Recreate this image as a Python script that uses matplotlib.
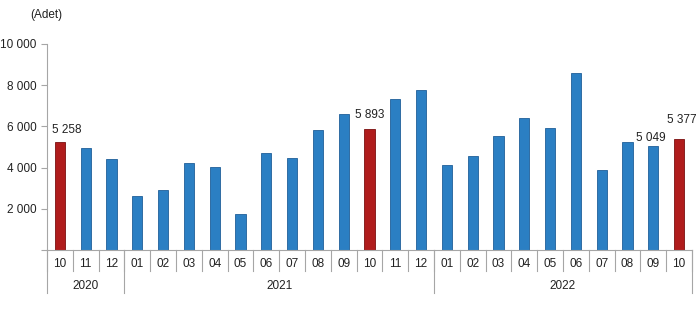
import matplotlib.pyplot as plt
import numpy as np
from matplotlib.transforms import blended_transform_factory

months = ["10", "11", "12",
          "01", "02", "03", "04", "05", "06", "07", "08", "09", "10", "11", "12",
          "01", "02", "03", "04", "05", "06", "07", "08", "09", "10"]
values = [5258, 4930, 4410,
          2640, 2900, 4230, 4030, 1730, 4690, 4450, 5810, 6620, 5893, 7310, 7790,
          4140, 4550, 5530, 6420, 5910, 8600, 3900, 5260, 5049, 5377]
years = ["2020", "2021", "2022"]
year_counts = [3, 12, 10]
labelled = {0: "5 258", 12: "5 893", 23: "5 049", 24: "5 377"}

# label nudges (x in bar slots, y in data units)
label_shift = {0: (0.25, 300), 12: (0.0, 350), 23: (-0.1, 120), 24: (0.1, 650)}

blue = "#2b7fc3"
blue_edge = "#1f5f99"
red = "#b01c1c"
red_edge = "#7a1010"
grey = "#a6a6a6"

plt.rcParams['font.family'] = ['Liberation Sans', 'DejaVu Sans']

fig = plt.figure(figsize=(7, 3.34), dpi=100)
ax = fig.add_axes([47 / 700, 84 / 334, 645 / 700, 206 / 334])

x = np.arange(len(values))
colors = [red if m == "10" else blue for m in months]
edges = [red_edge if m == "10" else blue_edge for m in months]
ax.bar(x, values, width=0.4, color=colors, edgecolor=edges, linewidth=0.6, zorder=2)

for i, txt in labelled.items():
    dx, dy = label_shift[i]
    ax.text(x[i] + dx, values[i] + dy, txt, ha="center", va="bottom", fontsize=8.5, color="#222222")

ax.set_xlim(-0.5, len(values) - 0.5)
ax.set_ylim(0, 10000)
ax.set_yticks(range(0, 10001, 2000))
ax.set_yticklabels(["", "2 000", "4 000", "6 000", "8 000", "10 000"])
ax.tick_params(axis="y", labelsize=8.5, length=4, color=grey, labelcolor="#222222")
ax.set_xticks([])

for s in ["top", "right"]:
    ax.spines[s].set_visible(False)
ax.spines["left"].set_color(grey)
ax.spines["bottom"].set_color(grey)

trans = blended_transform_factory(ax.transData, ax.transAxes)
# month labels and short separators
for i, m in enumerate(months):
    ax.text(i, -0.07, m, transform=trans, ha="center", va="center", fontsize=8.5, color="#222222")
for b in np.arange(-0.5, len(values), 1.0):
    ax.plot([b, b], [0, -0.1], transform=trans, color=grey, linewidth=0.8, clip_on=False)

# year groups
start = -0.5
for yr, n in zip(years, year_counts):
    end = start + n
    ax.plot([start, start], [0, -0.21], transform=trans, color=grey, linewidth=0.8, clip_on=False)
    ax.text((start + end) / 2, -0.175, yr, transform=trans, ha="center", va="center",
            fontsize=8.5, color="#222222")
    start = end
ax.plot([start, start], [0, -0.21], transform=trans, color=grey, linewidth=0.8, clip_on=False)

fig.text(46 / 700, 1 - 15 / 334, "(Adet)", ha="center", va="center", fontsize=8.5, color="#222222")

fig.savefig("out.png", dpi=100)
